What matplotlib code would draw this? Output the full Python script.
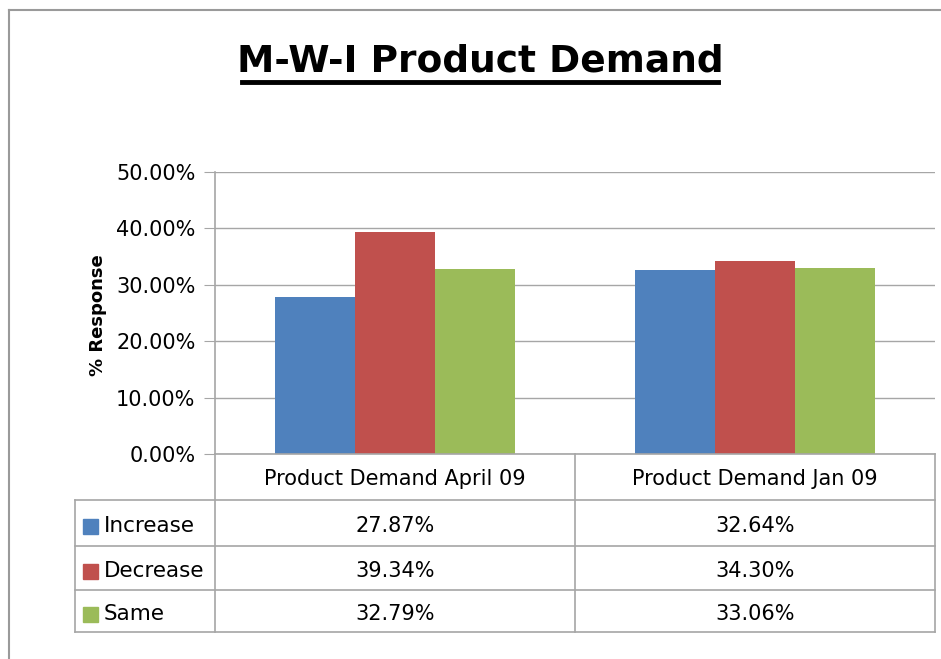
import matplotlib
matplotlib.use("Agg")
import matplotlib.pyplot as plt
from matplotlib.patches import Rectangle
import numpy as np

categories = ["Product Demand April 09", "Product Demand Jan 09"]
series_names = ["Increase", "Decrease", "Same"]
increase = [27.87, 32.64]
decrease = [39.34, 34.30]
same = [32.79, 33.06]
yticks = [0, 10, 20, 30, 40, 50]
title = "M-W-I Product Demand"
ylabel = "% Response"

colors = ["#4F81BD", "#C0504D", "#9BBB59"]
grid_col = "#A6A6A6"
W, H = 941, 659

plt.rcParams['font.family'] = ['DejaVu Sans']
fig = plt.figure(figsize=(W / 100, H / 100), dpi=100)

def fx(px):
    return px / W

def fy(py):
    return 1 - py / H

# plot area
L, R, T, B = 215, 935, 172, 454
ax = fig.add_axes([fx(L), fy(B), fx(R - L), (B - T) / H])
series = [increase, decrease, same]
x = np.arange(len(categories))
bw = 80 / 360
for i, (vals, c) in enumerate(zip(series, colors)):
    ax.bar(x + (i - 1) * bw, vals, width=bw, color=c, zorder=3, linewidth=0)
ax.set_xlim(-0.5, len(categories) - 0.5)
ax.set_ylim(0, 50)
ax.set_yticks(yticks)
ax.set_yticklabels([f"{v:.2f}%" for v in yticks], fontsize=15)
ax.tick_params(axis='y', length=8, color=grid_col, pad=6)
ax.set_xticks([])
ax.yaxis.grid(True, color=grid_col, linewidth=1)
ax.set_axisbelow(True)
for s in ["top", "right", "bottom"]:
    ax.spines[s].set_visible(False)
ax.spines["left"].set_color(grid_col)
ax.spines["left"].set_linewidth(1.2)

fig.text(fx(98), fy(315), ylabel, rotation=90, ha='center', va='center',
         fontsize=13, fontweight='bold')

# title
t = fig.text(fx(480), fy(62), title, ha='center', va='center', fontsize=27,
             fontweight='bold')
fig.canvas.draw()
bb = t.get_window_extent()
ov = fig.add_axes([0, 0, 1, 1], zorder=-1)
ov.set_xlim(0, W)
ov.set_ylim(H, 0)
ov.axis('off')
ov.plot([bb.x0 + 5, bb.x1 - 5], [82, 82], color='black', lw=3.5)

# outer border
ov.plot([9, 9], [H, 10], color='#9A9A9A', lw=1.5)
ov.plot([9, W], [10, 10], color='#9A9A9A', lw=1.5)

# data table
ov2 = fig.add_axes([0, 0, 1, 1], zorder=5)
ov2.set_xlim(0, W)
ov2.set_ylim(H, 0)
ov2.axis('off')
ov2.patch.set_alpha(0)
col_x = [L, (L + R) / 2, R]
row_y = [B, 500, 546, 590, 632]
tl = dict(color=grid_col, lw=1.2)
ov2.plot([L, R], [B, B], **tl)
for yy in row_y[1:]:
    ov2.plot([75, R], [yy, yy], **tl)
ov2.plot([75, 75], [row_y[1], row_y[-1]], **tl)
for xx in col_x:
    ov2.plot([xx, xx], [B, row_y[-1]], **tl)

for j, cat in enumerate(categories):
    cx = (col_x[j] + col_x[j + 1]) / 2
    ov2.text(cx, (row_y[0] + row_y[1]) / 2 + 2, cat, ha='center', va='center', fontsize=15)
for i, (name, vals, c) in enumerate(zip(series_names, series, colors)):
    ymid = (row_y[i + 1] + row_y[i + 2]) / 2 + 3
    ov2.add_patch(Rectangle((83, ymid - 7.5), 15, 15, color=c))
    ov2.text(104, ymid, name, ha='left', va='center', fontsize=15.5)
    for j, v in enumerate(vals):
        cx = (col_x[j] + col_x[j + 1]) / 2
        ov2.text(cx, ymid, f"{v:.2f}%", ha='center', va='center', fontsize=15)

fig.savefig("out.png", dpi=100)
